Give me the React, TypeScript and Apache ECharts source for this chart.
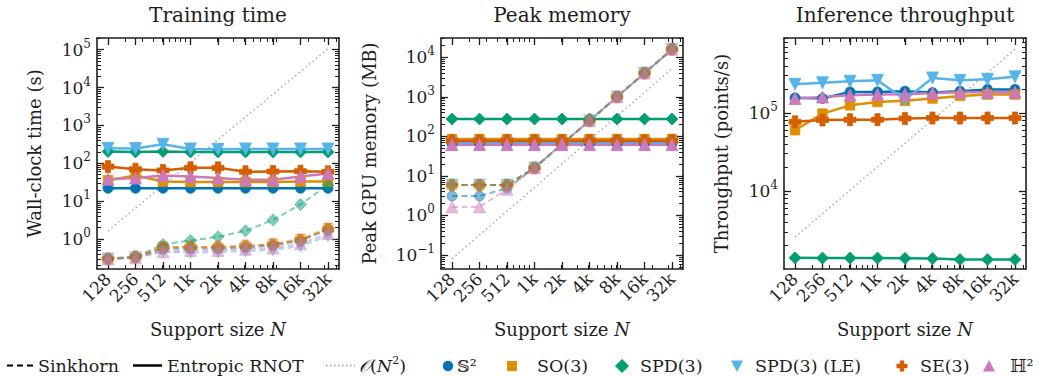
import React, { useEffect, useRef } from "react";
import * as echarts from "echarts";

const FONT = '"DejaVu Serif", "Liberation Serif", serif';
const INK = "#1e1e1e";

// ---------- x axis: support size N ----------
const supportN = [128, 256, 512, 1024, 2048, 4096, 8192, 16384, 32768];
const supportLabels = ["128", "256", "512", "1k", "2k", "4k", "8k", "16k", "32k"];
const supportMinorN = [200, 300, 400, 500, 600, 700, 800, 900, 2000, 3000, 4000, 5000, 6000, 7000, 8000, 9000, 20000, 30000, 40000];

// ---------- manifolds ----------
const manifoldLabels = ["𝕊²", "SO(3)", "SPD(3)", "SPD(3) (LE)", "SE(3)", "ℍ²"];
const manifoldColors = ["#0173b2", "#de8f05", "#029e73", "#56b4e9", "#d55e00", "#cc78bc"];

// ---------- Training time (s) ----------
const trainRnotS2 = [22, 22, 22, 22, 22, 22, 22, 22, 22];
const trainRnotSO3 = [36, 48, 33, 32, 32, 32, 32, 33, 33];
const trainRnotSPD = [205, 200, 205, 200, 200, 200, 200, 200, 200];
const trainRnotSPDLE = [250, 245, 320, 240, 235, 240, 240, 240, 240];
const trainRnotSE3 = [82, 70, 65, 76, 76, 60, 61, 62, 60];
const trainRnotH2 = [38, 41, 48, 45, 41, 37, 37, 45, 54];

const trainSinkS2 = [0.3, 0.33, 0.55, 0.56, 0.56, 0.6, 0.68, 0.9, 1.8];
const trainSinkSO3 = [0.3, 0.33, 0.62, 0.62, 0.6, 0.66, 0.75, 1.0, 2.0];
const trainSinkSPD = [0.31, 0.34, 0.72, 0.92, 1.15, 1.65, 3.2, 8.2, 27];
const trainSinkSPDLE = [0.3, 0.32, 0.47, 0.44, 0.45, 0.48, 0.52, 0.65, 1.2];
const trainSinkSE3 = [0.3, 0.34, 0.6, 0.62, 0.62, 0.66, 0.72, 0.95, 1.8];
const trainSinkH2 = [0.3, 0.32, 0.46, 0.5, 0.5, 0.54, 0.58, 0.75, 1.4];

// ---------- Peak GPU memory (MB) ----------
const memRnotS2 = [66, 66, 66, 66, 66, 66, 66, 66, 66];
const memRnotSO3 = [86, 86, 86, 86, 86, 86, 86, 86, 86];
const memRnotSPD = [275, 275, 275, 275, 275, 275, 275, 275, 275];
const memRnotSPDLE = [66, 66, 66, 66, 66, 66, 66, 66, 66];
const memRnotSE3 = [78, 78, 78, 78, 78, 78, 78, 78, 78];
const memRnotH2 = [62, 62, 62, 62, 62, 62, 62, 62, 62];

const memSinkS2 = [3.1, 3.1, 4.9, 16, 64, 250, 1000, 4000, 16000];
const memSinkSO3 = [5.9, 5.9, 5.9, 16, 64, 250, 1000, 4000, 16000];
const memSinkSPD = [5.9, 5.9, 5.9, 16, 64, 250, 1000, 4000, 16000];
const memSinkSPDLE = [5.9, 5.9, 5.9, 16, 64, 250, 1000, 4000, 16000];
const memSinkSE3 = [5.9, 5.9, 5.9, 16, 64, 250, 1000, 4000, 16000];
const memSinkH2 = [1.65, 1.65, 4.6, 16, 64, 250, 1000, 4000, 16000];

// ---------- Inference throughput (points/s) ----------
const thrRnotS2 = [156000, 153000, 186000, 186000, 190000, 182000, 190000, 200000, 200000];
const thrRnotSO3 = [60000, 98000, 125000, 138000, 143000, 153000, 165000, 172000, 172000];
const thrRnotSPD = [1390, 1380, 1380, 1380, 1370, 1360, 1320, 1320, 1320];
const thrRnotSPDLE = [233000, 243000, 255000, 262000, 148000, 281000, 262000, 270000, 290000];
const thrRnotSE3 = [77000, 81000, 82000, 82000, 85000, 86000, 86000, 86000, 86000];
const thrRnotH2 = [153000, 160000, 169000, 172000, 173000, 180000, 184000, 184000, 184000];

// ---------- O(N^2) reference guide ----------
const refN = [128, 32768];
const refTrain = [1.65, 107000];
const refMemory = [0.08, 5200];
const refThroughput = [2560, 655000];

// ---------- styling ----------
const PLUS_PATH = "path://M2.9,0H7.1V2.9H10V7.1H7.1V10H2.9V7.1H0V2.9H2.9Z";
const markerStyle = [
  { symbol: "circle", size: 10, rotate: 0 },
  { symbol: "rect", size: 9.5, rotate: 0 },
  { symbol: "diamond", size: 12, rotate: 0 },
  { symbol: "triangle", size: 12, rotate: 180 },
  { symbol: PLUS_PATH, size: 12, rotate: 0 },
  { symbol: "triangle", size: 12, rotate: 0 },
];

const GRID_TOP = 38;
const GRID_W = 242;
const GRID_H = 231;
const X_MIN = 6.6;
const X_MAX = 15.4;

const panels = [
  {
    title: "Training time",
    yName: "Wall-clock time (s)",
    left: 97,
    yMin: -0.79,
    yMax: 5.31,
    nameGap: 54,
    rnot: [trainRnotS2, trainRnotSO3, trainRnotSPD, trainRnotSPDLE, trainRnotSE3, trainRnotH2],
    sink: [trainSinkS2, trainSinkSO3, trainSinkSPD, trainSinkSPDLE, trainSinkSE3, trainSinkH2],
    ref: refTrain,
  },
  {
    title: "Peak memory",
    yName: "Peak GPU memory (MB)",
    left: 441,
    yMin: -1.354,
    yMax: 4.49,
    nameGap: 63,
    rnot: [memRnotS2, memRnotSO3, memRnotSPD, memRnotSPDLE, memRnotSE3, memRnotH2],
    sink: [memSinkS2, memSinkSO3, memSinkSPD, memSinkSPDLE, memSinkSE3, memSinkH2],
    ref: refMemory,
  },
  {
    title: "Inference throughput",
    yName: "Throughput (points/s)",
    left: 784,
    yMin: 3.0,
    yMax: 5.96,
    nameGap: 54,
    rnot: [thrRnotS2, thrRnotSO3, thrRnotSPD, thrRnotSPDLE, thrRnotSE3, thrRnotH2],
    sink: null as number[][] | null,
    ref: refThroughput,
  },
];

function logMajor(lo: number, hi: number) {
  const out: number[] = [];
  for (let d = Math.ceil(lo); d <= Math.floor(hi); d++) if (d > lo + 1e-9 && d < hi) out.push(d);
  return out;
}
function logMinor(lo: number, hi: number) {
  const out: number[] = [];
  for (let d = Math.floor(lo) - 1; d <= Math.ceil(hi); d++)
    for (let k = 2; k <= 9; k++) {
      const v = d + Math.log10(k);
      if (v > lo && v < hi) out.push(v);
    }
  return out;
}

function supLabel(v: number) {
  const e = Math.round(v);
  return `{b|10}{s|${e < 0 ? "−" + Math.abs(e) : e}}`;
}

function buildOption() {
  const grid: any[] = [];
  const xAxis: any[] = [];
  const yAxis: any[] = [];
  const series: any[] = [];
  const graphic: any[] = [];

  const xMajor = supportN.map((n) => Math.log2(n));
  const xMinor = supportMinorN.map((n) => Math.log2(n));
  const frame = { show: true, onZero: false, lineStyle: { color: INK, width: 1.6 } };
  const noLine = { show: false, onZero: false };
  const majorTick = (vals: number[]) => ({ show: true, inside: true, length: 7, customValues: vals, lineStyle: { color: INK, width: 1.3 } });
  const minorTick = (vals: number[]) => ({ show: true, inside: true, length: 4, customValues: vals, lineStyle: { color: INK, width: 1 } });

  panels.forEach((p, gi) => {
    grid.push({ left: p.left, top: GRID_TOP, width: GRID_W, height: GRID_H, containLabel: false, outerBoundsMode: "none" });
    const baseX = { type: "value", gridIndex: gi, min: X_MIN, max: X_MAX, splitLine: { show: false }, axisPointer: { show: false }, axisLabel: { show: false } };
    xAxis.push({
      ...baseX,
      position: "bottom",
      axisLine: frame,
      axisTick: majorTick(xMajor),
      axisLabel: {
        show: true,
        customValues: xMajor,
        rotate: 45,
        margin: 7,
        hideOverlap: false,
        fontFamily: FONT,
        fontSize: 17,
        color: INK,
        formatter: (v: number) => {
          const i = xMajor.findIndex((e) => Math.abs(e - v) < 1e-6);
          return i >= 0 ? supportLabels[i] : "";
        },
      },
      name: "Support size {i|N}",
      nameLocation: "middle",
      nameGap: 51,
      nameTextStyle: {
        fontFamily: FONT,
        fontSize: 18,
        color: INK,
        rich: { i: { fontFamily: FONT, fontSize: 18, fontStyle: "italic", color: INK } },
      },
    });
    xAxis.push({ ...baseX, position: "bottom", axisLine: noLine, axisTick: minorTick(xMinor) });
    xAxis.push({ ...baseX, position: "top", axisLine: frame, axisTick: majorTick(xMajor) });
    xAxis.push({ ...baseX, position: "top", axisLine: noLine, axisTick: minorTick(xMinor) });

    const yMaj = logMajor(p.yMin, p.yMax);
    const yMin = logMinor(p.yMin, p.yMax);
    const baseY = { type: "value", gridIndex: gi, min: p.yMin, max: p.yMax, splitLine: { show: false }, axisPointer: { show: false }, axisLabel: { show: false } };
    yAxis.push({
      ...baseY,
      position: "left",
      axisLine: frame,
      axisTick: majorTick(yMaj),
      axisLabel: {
        show: true,
        customValues: yMaj,
        margin: 6,
        hideOverlap: false,
        formatter: supLabel,
        rich: {
          b: { fontFamily: FONT, fontSize: 17, color: INK, lineHeight: 24 },
          s: { fontFamily: FONT, fontSize: 12, color: INK, lineHeight: 12, verticalAlign: "top" },
        },
      },
      name: p.yName,
      nameLocation: "middle",
      nameGap: p.nameGap,
      nameTextStyle: { fontFamily: FONT, fontSize: 18, color: INK },
    });
    yAxis.push({ ...baseY, position: "left", axisLine: noLine, axisTick: minorTick(yMin) });
    yAxis.push({ ...baseY, position: "right", axisLine: frame, axisTick: majorTick(yMaj) });
    yAxis.push({ ...baseY, position: "right", axisLine: noLine, axisTick: minorTick(yMin) });

    const xi = gi * 4;
    series.push({
      type: "line",
      xAxisIndex: xi,
      yAxisIndex: xi,
      data: refN.map((n, i) => [Math.log2(n), Math.log10(p.ref[i])]),
      symbol: "none",
      lineStyle: { color: "#ababab", width: 1.5, type: [1.5, 3] },
      z: 1,
      silent: true,
      emphasis: { disabled: true },
    });

    for (let m = 0; m < 6; m++) {
      const ms = markerStyle[m];
      const mk = (vals: number[], dashed: boolean) => ({
        type: "line",
        xAxisIndex: xi,
        yAxisIndex: xi,
        data: supportN.map((n, i) => [Math.log2(n), Math.log10(vals[i])]),
        symbol: ms.symbol,
        symbolSize: ms.size,
        symbolRotate: ms.rotate,
        showSymbol: true,
        lineStyle: {
          color: manifoldColors[m],
          width: dashed ? 2 : 2.5,
          type: dashed ? [6, 3.5] : "solid",
          opacity: dashed ? 0.5 : 1,
        },
        itemStyle: {
          color: manifoldColors[m],
          opacity: dashed ? 0.5 : 1,
          borderWidth: 0.8,
          borderColor: manifoldColors[m],
        },
        z: 2,
        silent: true,
        emphasis: { disabled: true },
      });
      if (p.sink) series.push(mk(p.sink[m], true));
      series.push(mk(p.rnot[m], false));
    }

    graphic.push({
      type: "text",
      x: p.left + GRID_W / 2,
      y: 15,
      silent: true,
      style: { text: p.title, fontFamily: FONT, fontSize: 20, fill: INK, align: "center", verticalAlign: "middle" },
    });
  });

  // ---------- legend ----------
  const LY = 365.5;
  const txt = (x: number, text: string, rich?: any) => ({
    type: "text",
    x,
    y: LY,
    silent: true,
    style: { text, fontFamily: FONT, fontSize: 17.5, fill: INK, align: "left", verticalAlign: "middle", rich },
  });
  graphic.push({ type: "line", silent: true, shape: { x1: 7, y1: LY, x2: 34, y2: LY }, style: { stroke: "#000", lineWidth: 2, lineDash: [6, 4] } });
  graphic.push(txt(38, "Sinkhorn"));
  graphic.push({ type: "line", silent: true, shape: { x1: 133, y1: LY, x2: 162, y2: LY }, style: { stroke: "#000", lineWidth: 2.5 } });
  graphic.push(txt(167, "Entropic RNOT"));
  graphic.push({ type: "line", silent: true, shape: { x1: 326, y1: LY, x2: 355, y2: LY }, style: { stroke: "#9a9a9a", lineWidth: 1.5, lineDash: [1.5, 2.5] } });
  graphic.push(
    txt(359, "{o|𝒪}({i|N}{s|2})", {
      o: { fontFamily: FONT, fontSize: 17.5, fontStyle: "italic", fill: INK, lineHeight: 22 },
      i: { fontFamily: FONT, fontSize: 17.5, fontStyle: "italic", fill: INK, lineHeight: 22 },
      s: { fontFamily: FONT, fontSize: 11, fill: INK, lineHeight: 12, verticalAlign: "top" },
    })
  );
  const legendMarkers = [448, 512, 622, 737, 902, 989];
  const legendText = [457, 537, 640, 755, 920, 1010];
  legendMarkers.forEach((cx, m) => {
    const c = manifoldColors[m];
    const cy = LY + 0.5;
    let el: any;
    if (m === 0) el = { type: "circle", shape: { cx, cy, r: 5.2 } };
    else if (m === 1) el = { type: "rect", shape: { x: cx - 5, y: cy - 5, width: 10, height: 10 } };
    else if (m === 2) el = { type: "polygon", shape: { points: [[cx, cy - 7], [cx + 7, cy], [cx, cy + 7], [cx - 7, cy]] } };
    else if (m === 3) el = { type: "polygon", shape: { points: [[cx - 6, cy - 5.5], [cx + 6, cy - 5.5], [cx, cy + 6]] } };
    else if (m === 4) {
      const a = 2.2, s = 5.5;
      el = {
        type: "polygon",
        shape: {
          points: [[cx - a, cy - s], [cx + a, cy - s], [cx + a, cy - a], [cx + s, cy - a], [cx + s, cy + a], [cx + a, cy + a], [cx + a, cy + s], [cx - a, cy + s], [cx - a, cy + a], [cx - s, cy + a], [cx - s, cy - a], [cx - a, cy - a]],
        },
      };
    } else el = { type: "polygon", shape: { points: [[cx, cy - 6], [cx + 6, cy + 5.5], [cx - 6, cy + 5.5]] } };
    el.style = { fill: c };
    el.silent = true;
    graphic.push(el);
    graphic.push(txt(legendText[m], manifoldLabels[m]));
  });

  return {
    animation: false,
    backgroundColor: "#ffffff",
    textStyle: { fontFamily: FONT },
    grid,
    xAxis,
    yAxis,
    series,
    graphic,
  };
}

export default function App() {
  const ref = useRef<HTMLDivElement>(null);
  useEffect(() => {
    if (!ref.current) return;
    const chart = echarts.init(ref.current, null, { renderer: "svg" });
    chart.setOption(buildOption() as any);
    return () => chart.dispose();
  }, []);
  return <div ref={ref} style={{ position: "absolute", left: 0, top: 0, width: 1047, height: 376, background: "#fff" }} />;
}
